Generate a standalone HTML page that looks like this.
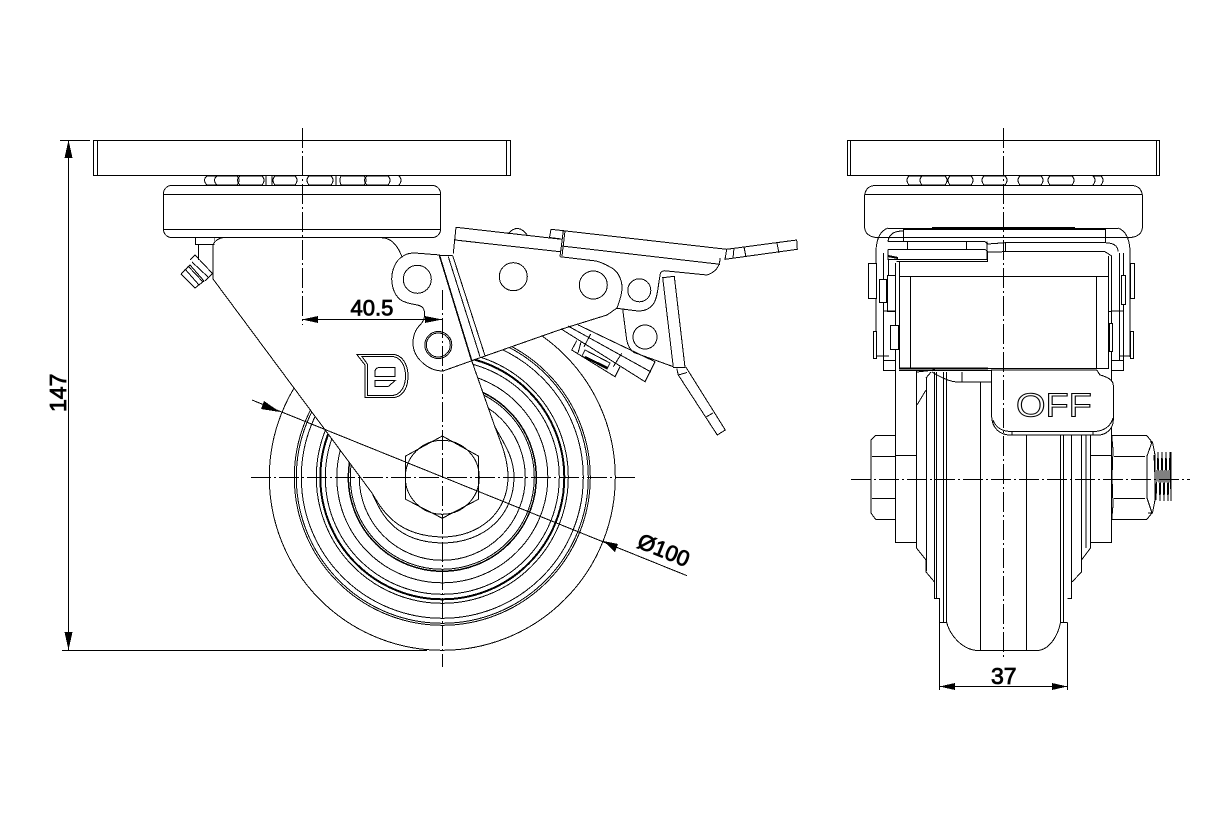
<!DOCTYPE html>
<html><head><meta charset="utf-8"><style>
html,body{margin:0;padding:0;background:#fff}
svg{display:block;shape-rendering:crispEdges}
.l{fill:none;stroke:#000;stroke-width:1}
.c{fill:none;stroke:#000;stroke-width:1}
.w{fill:#fff;stroke:#000;stroke-width:1}
.t{fill:none;stroke:#000;stroke-width:2}
.d{fill:none;stroke:#000;stroke-width:1;stroke-dasharray:20 3 2 3}
.a{fill:#000;stroke:none}
text{font-family:"Liberation Sans",sans-serif;fill:#000;stroke:#000;stroke-width:.8}
</style></head><body>
<svg width="1217" height="831" viewBox="0 0 1217 831" xmlns="http://www.w3.org/2000/svg">
<!-- LEFT VIEW -->
<rect class="l" x="93.500" y="140.500" width="417" height="35"/>
<path class="l" d="M97.500 140V175M506.500 140V175"/>
<!-- balls -->
<path class="c" d="M207 176Q202 180 207 185M217 176Q212 180 217 185M237 176Q241 180 237 185M240 176Q235 180 240 185M262 176Q266 180 262 185M266 176V185M272 176V185M275 176Q271 180 275 185M295 176Q299 180 295 185M309 176Q305 180 309 185M331 176Q335 180 331 185M336 176V185M341 176Q339 180 341 185M364 176Q368 180 364 185M367 176Q362 180 367 185M388 176Q392 180 388 185M399 176Q403 180 399 185"/>
<path class="l" d="M207 176H237M240 176H262M275 176H295M309 176H331M341 176H364M367 176H388M207 185H237M240 185H262M275 185H295M309 185H331M341 185H364M367 185H388"/>
<rect class="w" x="163.500" y="185.500" width="277" height="52" rx="8"/>
<path class="l" d="M164 194.500H440M164 229.500H440"/>
<!-- stud, nipple -->
<path class="l" d="M195.500 238V244.500H215V238M198.500 245V260"/>
<path class="c" d="M190 260L195 255L212.500 273.500L205 281M181 274L190 265L204 281L195 288L181 274M185 269L199 285M188 266L203 282M192 262L208 277"/>
<!-- tire and rings -->
<g class="c">
<circle cx="442.300" cy="477.300" r="173"/>
<circle cx="442.300" cy="477.300" r="148"/>
<circle cx="442.300" cy="477.300" r="146"/>
<circle cx="442.300" cy="477.300" r="141"/>
<circle cx="442.300" cy="477.300" r="126"/>
<circle cx="442.300" cy="477.300" r="122" stroke-width="2"/>
<circle cx="442.300" cy="477.300" r="117"/>
<circle cx="442.300" cy="477.300" r="105.500"/>
<circle cx="442.300" cy="477.300" r="94" stroke-width="1.500"/>
<circle cx="442.300" cy="477.300" r="92"/>
<circle cx="442.300" cy="477.300" r="83"/>
</g>
<!-- fork + bracket body -->
<path d="M215 238H382L402 257L440 255L456 240L560 256L597 261L617 308L607 315L562 329L472 360L495 427A71.500 71.500 0 1 1 372 493L213 279Z" fill="#fff"/>
<path class="c" d="M213 245Q216 238 225 237.500M213 245V279L372 493C380 510 392 542 442 543C485 543 514 515 514 477C514 458 505 445 495 427L471.700 360.700"/>
<path class="c" d="M372 493C383 512 398 536 442 537C480 537 508 512 508 477C508 460 502 445 495 427"/>
<path class="c" d="M381.700 237.700C392 238 398 246 402 257C396 260 391.700 270 391.700 279C392 292 398 300 405 302C412 305 420 304 423 308C426 313 425 320 420 325C415 330 413 336 413 343C413 358 428 371 443 371L476.700 359"/>
<path class="c" d="M402 257C405 254 410 253 415 253L440 255"/>
<path class="c" d="M471.700 360.700L562 329L607 315L617 308C620 300 622 294 622 288C622 278 617 270 610 267C605 264 600 262 596 261L560 256.700"/>
<path class="t" d="M439.500 255.500L471.700 360.700" style="stroke-width:1.500"/>
<path class="c" d="M448.300 256.700L480 356.700M452.700 255.700L485 355.700M439.500 255.500L452.700 255.700M453.300 253.300L456 227.300L561.700 239.300M455 240L560 251.700"/>
<path class="c" d="M508 234Q518 222 528 236"/>
<path class="c" d="M551 229.300L549.500 237.500L561.700 239M551 229.300L563.300 230.700L726.700 249.300L725 259.300L797.300 249.300L796.700 240L726.700 249.300M561.700 246L720 264.300M563.300 230.700L560 256.700M565 231L562 256"/>
<path class="c" d="M734 248L733 258M744 247L746 257M777 243L779 253"/>
<path class="c" d="M720 258C720 266 716 272 707 275L667 271C662 270 660 272 660 276C658 285 658 296 654 303C650 309 645 311 638 311L616.700 308.300"/>
<path class="c" d="M622.700 309.300L626.700 340C628 346 630 350 634 352.500L673.300 366.700"/>
<path class="w" d="M662.700 277.700L674.300 276.300L685 367.300L673.300 367.300Z"/>
<path class="c" d="M676.700 368.300L678.300 375L717.300 435L725.300 430L686 367.300M678.300 375L687 372.500M706 417L713 413"/>
<!-- latch assembly -->
<path class="c" d="M561.700 329.300L645 381.700L655 361.700L578.300 325M568 326L651 372M590.700 334L584 346.700M576.700 340.700L571.700 350L615 376.700L620 366.700M581 342L578 353M621.700 353.300L613.300 366.700M585 350L610 363L607 369L582 356Z"/>
<path class="t" d="M585 357L608 368"/>
<!-- holes -->
<circle class="w" cx="417.300" cy="279.300" r="14" stroke-width="1.300"/>
<circle class="w" cx="438.300" cy="345" r="13.500"/>
<circle class="c" cx="438.300" cy="345" r="12"/>
<circle class="w" cx="513.300" cy="276.700" r="14" stroke-width="1.300"/>
<circle class="w" cx="593.300" cy="285" r="14" stroke-width="1.500"/>
<circle class="w" cx="639.300" cy="290.300" r="11.500" stroke-width="1.300"/>
<circle class="w" cx="645" cy="337" r="12" stroke-width="1.300"/>
<!-- logo -->
<path class="c" d="M356.700 354.300H391.700C402 354.300 408 364 408 376C408 389 402 397.700 391.700 397.700H365V365Z"/>
<path class="c" d="M362 356.500H391.700C400 356.500 405.500 365 405.500 376C405.500 387 400 395.500 391.700 395.500H367.300V364Z"/>
<path class="c" d="M375 376.700V372Q375 367.300 381 367.300H395V376.700ZM375 380.700H395L388 386.700H375Z"/>
<!-- hex -->
<path class="w" d="M442.300 436L478.300 456V499.300L442.300 518.300L405.700 499.300V456Z"/>
<circle class="c" cx="442.300" cy="477.300" r="37"/>
<!-- left dims -->
<path class="d" d="M302.500 128V325"/>
<path class="d" d="M442.500 290V667"/>
<path class="d" d="M251 477.500H635"/>
<path class="l" d="M60 140.500H90M62 650.500H427M68.500 140V650M302 319.500H442"/>
<path class="a" d="M68.500 140L64.500 158H72.500ZM68.500 650L64.500 632H72.500ZM302 319.500L318 316V323ZM442 319.500L425 316V323Z"/>
<path class="c" d="M252 400L687 575.700"/>
<path class="a" d="M280 412L264 401L261 409ZM603.300 541L618 544L615 552Z"/>
<text x="350.500" y="315.700" font-size="22">40.5</text>
<text transform="translate(66 412) rotate(-90)" font-size="23">147</text>
<text transform="translate(636 547) rotate(22)" font-size="22">Ø100</text>

<!-- RIGHT VIEW -->
<rect class="l" x="847.500" y="140.500" width="312" height="35"/>
<path class="l" d="M850.500 140V175M1156.500 140V175"/>
<path class="c" d="M909 176Q905 180 909 185M922 176Q918 180 922 185M945 176Q949 180 945 185M950 176Q946 180 950 185M971 176Q975 180 971 185M984 176Q980 180 984 185M1005 176Q1009 180 1005 185M1020 176Q1016 180 1020 185M1041 176Q1045 180 1041 185M1050 176Q1046 180 1050 185M1072 176Q1076 180 1072 185M1093 176Q1097 180 1093 185M1101 176Q1105 180 1101 185"/>
<path class="l" d="M909 176H945M950 176H971M984 176H1005M1020 176H1041M1050 176H1072M1093 176H1101M909 185H945M950 185H971M984 185H1005M1020 185H1041M1050 185H1072"/>
<path class="c" d="M876 237.500Q864.500 236 864.500 226V198Q864.500 185.500 876 185.500H1131Q1142.500 185.500 1142.500 198V226Q1142.500 236 1131 237.500Z"/>
<path class="l" d="M865 194.500H1142"/>
<!-- wheel -->
<path class="l" d="M895.500 263V542.500H916.500M1111.500 263V542.500H1090.500M895 455.500H916.500M1090 455.500H1111.500"/>
<path class="l" d="M916.500 370V548M926.500 378V571M934.500 372V598.500H939M936.500 372V598M939.500 598V690M943.500 372V622.500M946.500 372V622.500H939.500M980.500 382V650.500M1026.500 435V650.500M1060.500 435V622.500M1063.500 435V622.500M1067.500 622.500V690M1060 622.500H1067.500M1067.500 598.500H1072M1071.500 435V598.500M1081.500 435V560M1090.500 435V548M1086 435V548"/>
<path class="c" d="M916.500 548L926 560V572L934.500 582M1090.500 548L1081.500 560V572L1072 582M946.700 622.500C950 635 962 650 978 650.500H1037C1050 650 1058 635 1060.500 622.500M917 372L935 370"/>
<!-- nuts -->
<path class="c" d="M895 435.500H875.700L871 440V513L875.700 519.500H895M872 456.500H895M872 498.500H895"/>
<path class="c" d="M1111.700 435.500H1146.700L1152 442L1147 456V498L1152 513L1146.700 519.500H1111.700M1114 456.500H1145M1114 498.500H1145M1111.700 435.500L1113 450L1112 477L1113 505L1111.700 519.500"/>
<path class="c" d="M1150 442H1152.500L1155 455V500L1152.500 513H1148"/>
<path class="c" d="M1154 455L1156 500L1158 452L1160 501L1162 452L1164 501L1166 452L1168 501L1170 452L1171 501V452"/>
<!-- top bracket -->
<path class="c" d="M888 228Q877 232 876 250V357M1118 228Q1129 232 1130 250V357"/>
<path class="l" d="M888 228.500H1118M903 229.500H1105M903.500 229V241M1105.500 229V242M883.500 253V360M888.500 259V311M1123.500 253V360M1119.500 253V360"/>
<path class="t" d="M932 228H1075"/>
<path class="c" d="M888 241.700Q889 231 903 231M888 241.700H985L988 244L1005 242.700H1105Q1118 243 1118 251.700M888 249.300H985L988 252L1005 251.700H1105M888 249.300V259.300H987V241.700M907.500 242V249M966.500 242V249M1005.500 243V251.500M1105 251.700L1111.700 256V311.700H1096M1108.500 256V311"/>
<path class="t" d="M888 256L898 258"/>
<path class="c" d="M896.700 261.700H987.700V252"/>
<rect class="w" x="899.500" y="276.500" width="209" height="92"/>
<path class="l" d="M899.500 262V276M910.500 276V368M1096.500 276V368M899 370.500H1096.500"/>
<path class="t" d="M899 368.500H988"/>
<!-- side washers -->
<path class="w" d="M868.500 263.500H876.500V298.500H868.500ZM879.500 279.500H886.500V302.500H879.500ZM887.500 275.500H895.500V311.500H887.500ZM890.500 325.500H898.500V349.500H890.500ZM873.500 331.500H876.500V358.500H873.500ZM883.500 360.500H895.500V370.500H883.500ZM1130.500 263.500H1134.500V298.500H1130.500ZM1121.500 275.500H1125.500V304.500H1121.500ZM1109.500 323.500H1112.500V351.500H1109.500ZM1130.500 331.500H1133.500V358.500H1130.500ZM1111.500 360.500H1123.500V370.500H1111.500Z"/>
<path class="l" d="M883 311H895M1111 311H1123M876 356H889M1119 356H1130"/>
<!-- wheel top arc -->
<path class="c" d="M932 372Q948 382 958 382H992M962 372V382M926 378L931 372M917 405L926 390"/>
<!-- OFF tab -->
<path class="w" d="M991.700 370V416.700C992 428 1000 435 1010 435H1098C1107 435 1113.300 428 1113.300 420V385C1113 380 1108 377 1100 375L1096.700 370Z"/>
<path class="c" d="M993 420C996 428 1002 431.500 1012 431.500H1095C1104 431 1111 426 1113 418"/>
<path class="l" d="M1012 431.500V435M1093 431.500V435"/>
<text transform="translate(1016 416.500) scale(1.150 1)" font-size="33" style="fill:#fff;stroke:#000;stroke-width:1">OFF</text>
<!-- right dims -->
<path class="d" d="M1003.500 128V658"/>
<path class="d" d="M851 479.500H1190"/>
<path class="l" d="M939 686.500H1068"/>
<path class="a" d="M939.500 686.500L955 683V690ZM1067.500 686.500L1052 683V690Z"/>
<text x="991" y="684" font-size="23">37</text>
</svg>
</body></html>
